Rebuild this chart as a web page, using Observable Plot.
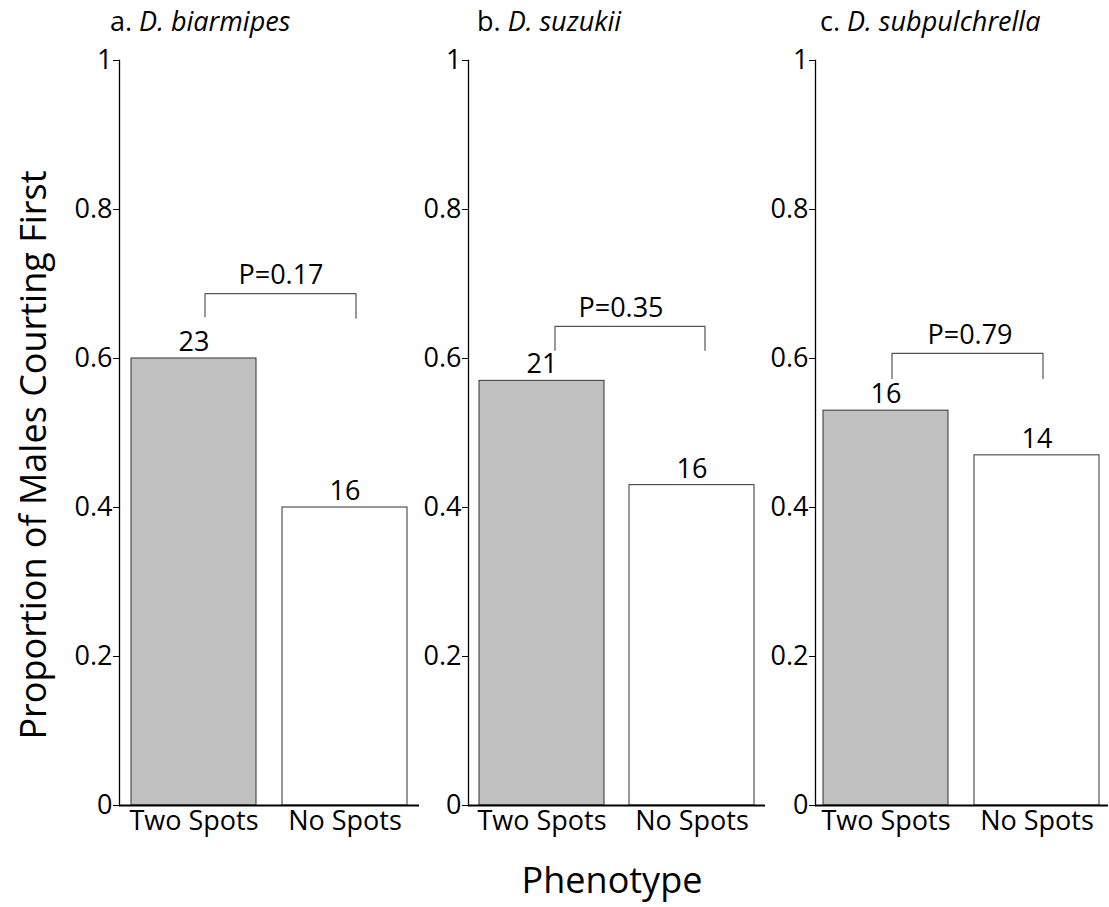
<!DOCTYPE html>
<html>
<head>
<meta charset="utf-8">
<script src="https://cdn.jsdelivr.net/npm/d3@7"></script>
<script src="https://cdn.jsdelivr.net/npm/@observablehq/plot@0.6"></script>
<style>
  body { margin: 0; background: #fff; }
  #chart { position: relative; width: 1109px; height: 907px; background: #fff;
           font-family: "Open Sans", sans-serif; color: #000; }
  .panel { position: absolute; top: 0; }
  .panel-title { position: absolute; top: 2px; font-size: 27px; white-space: nowrap; }
  .panel-title i { font-style: italic; }
  .y-title { position: absolute; left: 33px; top: 455px; font-size: 36px; line-height: 1.2; white-space: nowrap;
             transform: translate(-50%, -50%) rotate(-90deg); }
  .x-title { position: absolute; left: 612px; top: 880px; font-size: 36px; line-height: 1.2; white-space: nowrap;
             transform: translate(-50%, -50%); }
</style>
</head>
<body>
<div id="chart"></div>
<script>
// Proportion of males courting first, by wing-spot phenotype, for three Drosophila species
const phenotypes = ["Two Spots", "No Spots"];
const panelLetters = ["a.", "b.", "c."];
const species = ["D. biarmipes", "D. suzukii", "D. subpulchrella"];
const proportions = [[0.60, 0.40], [0.57, 0.43], [0.53, 0.47]];
const sampleSizes = [[23, 16], [21, 16], [16, 14]];
const pLabels = ["P=0.17", "P=0.35", "P=0.79"];
const bracketTop = [0.687, 0.643, 0.607];
const bracketLegEnds = [[0.656, 0.654], [0.611, 0.611], [0.573, 0.573]];
const yTicks = [0, 0.2, 0.4, 0.6, 0.8, 1];

// panel placement on the page
const panelLeft = [0, 349, 696];
const panelWidth = [419, 416, 412];
const panelPadOuter = [0.075, 0.075, 0.05];
const titleLeft = [110, 477, 820];
const bracketShift = [11, 13, 6];
const pLabelShift = [87, 79, 84];
const barFill = ["#c0c0c0", "#ffffff"];
const fontSize = 27;

const chart = document.getElementById("chart");

species.forEach((sp, i) => {
  const bars = phenotypes.map((p, j) => ({
    phenotype: p, proportion: proportions[i][j], n: sampleSizes[i][j], fill: barFill[j]
  }));
  const bracket = [
    {phenotype: phenotypes[0], y: bracketLegEnds[i][0]},
    {phenotype: phenotypes[0], y: bracketTop[i]},
    {phenotype: phenotypes[1], y: bracketTop[i]},
    {phenotype: phenotypes[1], y: bracketLegEnds[i][1]}
  ];

  const plot = Plot.plot({
    width: panelWidth[i],
    height: 840,
    marginLeft: 119,
    marginRight: 0,
    marginTop: 60,
    marginBottom: 35,
    style: {background: "none", fontFamily: "'Open Sans', sans-serif", fontSize: fontSize + "px", overflow: "visible", color: "#000"},
    x: {domain: phenotypes, paddingInner: 0.17, paddingOuter: panelPadOuter[i], label: null},
    y: {domain: [0, 1], label: null},
    marks: [
      Plot.barY(bars, {x: "phenotype", y: "proportion", fill: "fill", stroke: "#333", strokeWidth: 1}),
      Plot.frame({anchor: "left", stroke: "#000", strokeWidth: 1.3}),
      Plot.ruleY([0], {stroke: "#000", strokeWidth: 2}),
      Plot.axisY(yTicks, {tickSize: 6, tickPadding: 1, tickFormat: d => String(d), fontSize, label: null, stroke: "#000", strokeWidth: 1}),
      Plot.axisX({tickSize: 0, tickPadding: 5, fontSize, label: null}),
      Plot.text(bars, {x: "phenotype", y: "proportion", text: "n", dy: -16, fontSize}),
      Plot.line(bracket, {x: "phenotype", y: "y", dx: bracketShift[i], stroke: "#555", strokeWidth: 1.2, curve: "linear"}),
      Plot.text([{phenotype: phenotypes[0], y: bracketTop[i], label: pLabels[i]}],
        {x: "phenotype", y: "y", text: "label", dx: pLabelShift[i], dy: -18, fontSize})
    ]
  });
  plot.classList.add("panel");
  plot.style.left = panelLeft[i] + "px";
  chart.appendChild(plot);

  const title = document.createElement("div");
  title.className = "panel-title";
  title.style.left = titleLeft[i] + "px";
  title.innerHTML = panelLetters[i] + " <i>" + sp + "</i>";
  chart.appendChild(title);
});

const yTitle = document.createElement("div");
yTitle.className = "y-title";
yTitle.textContent = "Proportion of Males Courting First";
chart.appendChild(yTitle);

const xTitle = document.createElement("div");
xTitle.className = "x-title";
xTitle.textContent = "Phenotype";
chart.appendChild(xTitle);
</script>
</body>
</html>
